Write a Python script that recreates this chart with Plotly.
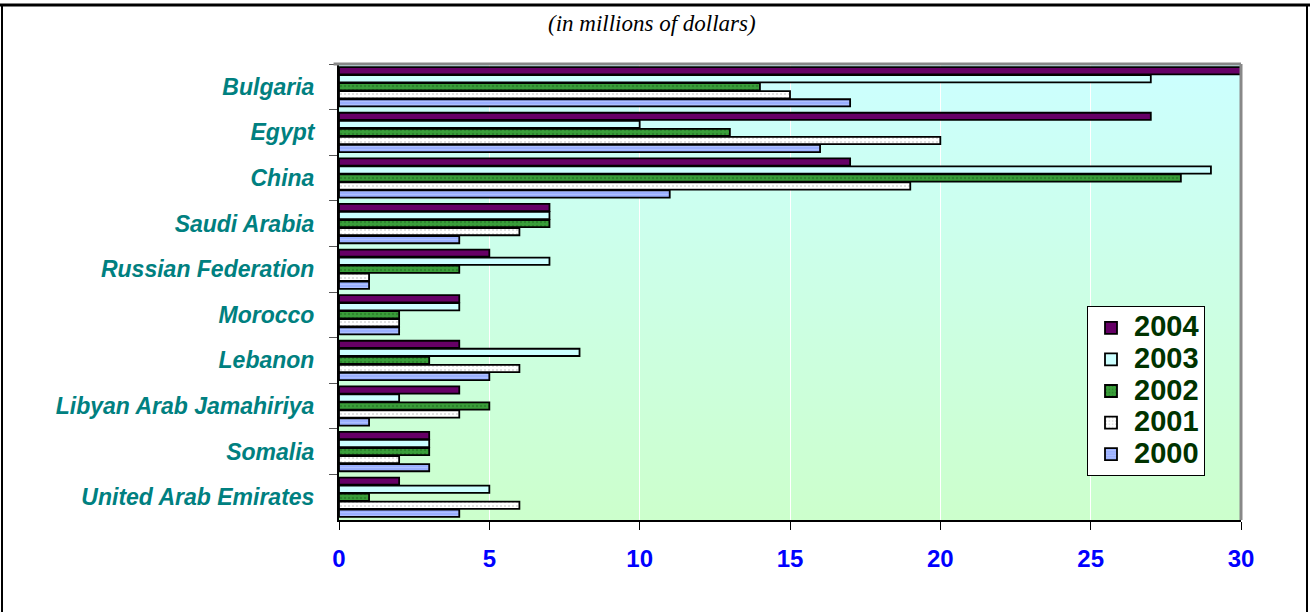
import base64
import plotly.graph_objects as go

# Recipients, listed top to bottom
countries = [
    "Bulgaria", "Egypt", "China", "Saudi Arabia", "Russian Federation",
    "Morocco", "Lebanon", "Libyan Arab Jamahiriya", "Somalia",
    "United Arab Emirates",
]

# Values in millions of dollars, one list per year
v2004 = [30, 27, 17, 7, 5, 4, 4, 4, 3, 2]
v2003 = [27, 10, 29, 7, 7, 4, 8, 2, 3, 5]
v2002 = [14, 13, 28, 7, 4, 2, 3, 5, 3, 1]
v2001 = [15, 20, 19, 6, 1, 2, 6, 4, 2, 6]
v2000 = [17, 16, 11, 4, 1, 2, 5, 1, 3, 4]

years = ["2004", "2003", "2002", "2001", "2000"]
x_ticks = [0, 5, 10, 15, 20, 25, 30]

W, H = 1310, 612
L, R, T, B = 339, 1241, 64, 520  # plot area edges in pixels


def px_x(px):
    return (px - L) / (R - L)


def px_y(py):
    return (B - py) / (B - T)


styles = {
    "2004": dict(color="#660066"),
    "2003": dict(color="#CCFFFF"),
    "2002": dict(color="#339933",
                 pattern=dict(shape=".", bgcolor="#3A9E3A", fgcolor="#1F6A1F",
                              size=4, solidity=0.3)),
    "2001": dict(color="#FFFFFF",
                 pattern=dict(shape=".", bgcolor="#FFFFFF", fgcolor="#B0B0B0",
                              size=4, solidity=0.2)),
    "2000": dict(color="#99B0FF",
                 pattern=dict(shape="-", bgcolor="#99AEFF", fgcolor="#C4D2FF",
                              size=3, solidity=0.4)),
}

series = [v2004, v2003, v2002, v2001, v2000]

fig = go.Figure()
for yr, vals in zip(years, series):
    marker = dict(styles[yr])
    marker["line"] = dict(color="black", width=1.8)
    fig.add_trace(go.Bar(
        y=countries, x=vals, orientation="h", marker=marker,
        # larger legend text while keeping compact row spacing
        name=f"<span style='font-size:29px'>{yr}</span>",
    ))

# Vertical cyan-to-green gradient behind the bars
svg = (
    '<svg xmlns="http://www.w3.org/2000/svg" width="100" height="100" '
    'preserveAspectRatio="none"><defs><linearGradient id="g" x1="0" y1="0" '
    'x2="0" y2="1"><stop offset="0" stop-color="#CCFFFF"/>'
    '<stop offset="1" stop-color="#CCFFCC"/></linearGradient></defs>'
    '<rect width="100" height="100" fill="url(#g)"/></svg>'
)
bg_src = "data:image/svg+xml;base64," + base64.b64encode(svg.encode()).decode()

shapes = [
    # gray frame on top and right of the plot area
    dict(type="line", xref="paper", yref="paper", x0=-0.006, x1=1, y0=1, y1=1,
         line=dict(color="#888888", width=3), layer="above"),
    dict(type="line", xref="paper", yref="paper", x0=1, x1=1, y0=0, y1=1,
         line=dict(color="#888888", width=3), layer="above"),
    # page frame
    dict(type="line", xref="paper", yref="paper",
         x0=px_x(0), x1=px_x(W), y0=px_y(5), y1=px_y(5),
         line=dict(color="black", width=3)),
    dict(type="line", xref="paper", yref="paper",
         x0=px_x(2), x1=px_x(2), y0=px_y(5), y1=px_y(H + 5),
         line=dict(color="black", width=2)),
    dict(type="line", xref="paper", yref="paper",
         x0=px_x(1307), x1=px_x(1307), y0=px_y(5), y1=px_y(H + 5),
         line=dict(color="black", width=2)),
]

fig.update_layout(
    width=W, height=H,
    margin=dict(l=L, r=W - R, t=T, b=H - B, pad=0),
    paper_bgcolor="white",
    plot_bgcolor="rgba(0,0,0,0)",
    barmode="group",
    bargap=0.12,
    bargroupgap=0.1,
    font=dict(family="Liberation Sans, Arial, sans-serif"),
    images=[dict(source=bg_src, xref="paper", yref="paper", x=0, y=1,
                 sizex=1, sizey=1, sizing="stretch", layer="below",
                 xanchor="left", yanchor="top")],
    shapes=shapes,
    annotations=[dict(
        text="(in millions of dollars)", xref="paper", yref="paper",
        x=px_x(652), y=px_y(23), xanchor="center", yanchor="middle",
        showarrow=False,
        font=dict(family="Liberation Serif, Times New Roman, serif",
                  size=23, style="italic", color="black"),
    )],
    legend=dict(
        x=px_x(1087), y=px_y(306), xanchor="left", yanchor="top",
        bgcolor="white", bordercolor="black", borderwidth=1,
        font=dict(size=22, weight="bold", color="#003300"),
        traceorder="normal", itemwidth=36,
    ),
    xaxis=dict(
        range=[0, 30], tickvals=x_ticks, ticktext=[str(t) for t in x_ticks],
        showgrid=True, gridcolor="white", gridwidth=1,
        showline=True, linecolor="black", linewidth=2,
        ticks="outside", ticklen=8, tickcolor="black", tickwidth=1,
        tickfont=dict(size=24, weight="bold", color="#0000FF"),
        ticklabelstandoff=8, zeroline=False,
    ),
    yaxis=dict(
        type="category", categoryorder="array", categoryarray=countries,
        autorange="reversed", showgrid=False,
        showline=True, linecolor="black", linewidth=2,
        ticks="outside", ticklen=8, tickcolor="#555555", tickwidth=1,
        tickson="boundaries",
        tickfont=dict(size=23, weight="bold", style="italic", color="#008080"),
        ticklabelstandoff=18,
    ),
)

fig.write_html("out.html")
